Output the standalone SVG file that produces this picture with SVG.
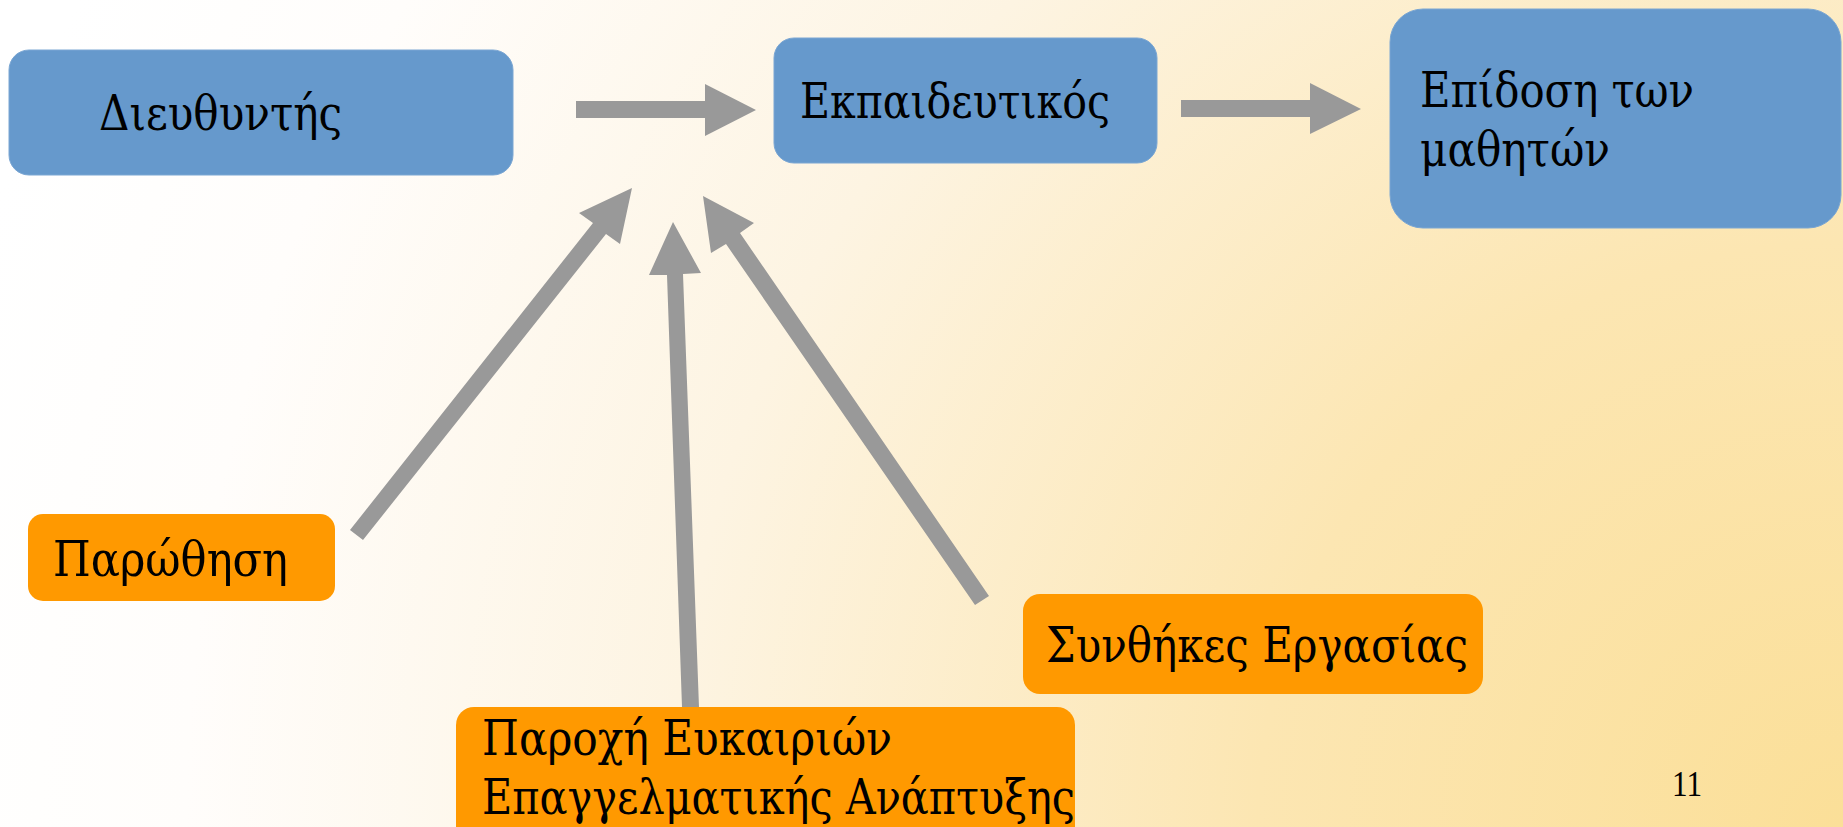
<svg xmlns="http://www.w3.org/2000/svg" width="1843" height="827" viewBox="0 0 1843 827">
<defs>
<radialGradient id="bg" cx="1843" cy="827" r="1950" gradientUnits="userSpaceOnUse">
<stop offset="0" stop-color="#FBDF98"/>
<stop offset="0.3" stop-color="#FCE6B2"/>
<stop offset="0.6" stop-color="#FDF4E2"/>
<stop offset="0.85" stop-color="#FFFDFB"/>
<stop offset="1" stop-color="#FFFFFF"/>
</radialGradient>
<style>
.blue{fill:#6699CC;stroke:#7AA6D3;stroke-width:1}
.orange{fill:#FF9900}
.arrow{fill:#999999}
.t{font-family:"DejaVu Serif Condensed","DejaVu Serif","Liberation Serif",serif;font-size:48px;fill:#000}
</style>
</defs>
<rect x="0" y="0" width="1843" height="827" fill="url(#bg)"/>
<g id="connectors">
<polygon class="arrow" points="576,101 705,101 705,84 756,110 705,136 705,118 576,118"/>
<polygon class="arrow" points="1181,100 1310,100 1310,83 1361,109 1310,134 1310,117 1181,117"/>
<polygon class="arrow" points="350,530 593,223 579,213 632,188 620,244 606,234 363,540"/>
<polygon class="arrow" points="682,707 667,275 649,275 673,222 701,273 683,274 699,707"/>
<polygon class="arrow" points="989,596 740,233 754,223 703,196 711,253 726,244 975,605"/>
</g>
<g id="node-director">
<rect class="blue" x="9" y="50" width="504" height="125" rx="20"/>
<text class="t" x="99" y="130" textLength="243" lengthAdjust="spacingAndGlyphs">Διευθυντής</text>
</g>
<g id="node-teacher">
<rect class="blue" x="774" y="38" width="383" height="125" rx="20"/>
<text class="t" x="800" y="118" textLength="310" lengthAdjust="spacingAndGlyphs">Εκπαιδευτικός</text>
</g>
<g id="node-performance">
<rect class="blue" x="1390" y="9" width="451" height="219" rx="33"/>
<text class="t" x="1420" y="107" textLength="274" lengthAdjust="spacingAndGlyphs">Επίδοση των</text>
<text class="t" x="1420" y="166" textLength="190" lengthAdjust="spacingAndGlyphs">μαθητών</text>
</g>
<g id="node-motivation">
<rect class="orange" x="28" y="514" width="307" height="87" rx="15"/>
<text class="t" x="53" y="576" textLength="235" lengthAdjust="spacingAndGlyphs">Παρώθηση</text>
</g>
<g id="node-development">
<rect class="orange" x="456" y="707" width="619" height="140" rx="18"/>
<text class="t" x="482" y="755" textLength="410" lengthAdjust="spacingAndGlyphs">Παροχή Ευκαιριών</text>
<text class="t" x="482" y="814" textLength="593" lengthAdjust="spacingAndGlyphs">Επαγγελματικής Ανάπτυξης</text>
</g>
<g id="node-conditions">
<rect class="orange" x="1023" y="594" width="460" height="100" rx="17"/>
<text class="t" x="1046" y="662" textLength="422" lengthAdjust="spacingAndGlyphs">Συνθήκες Εργασίας</text>
</g>
<text x="1672" y="796" style="font-family:'Liberation Serif',serif;font-size:36px;fill:#000" textLength="30" lengthAdjust="spacingAndGlyphs">11</text>
</svg>
